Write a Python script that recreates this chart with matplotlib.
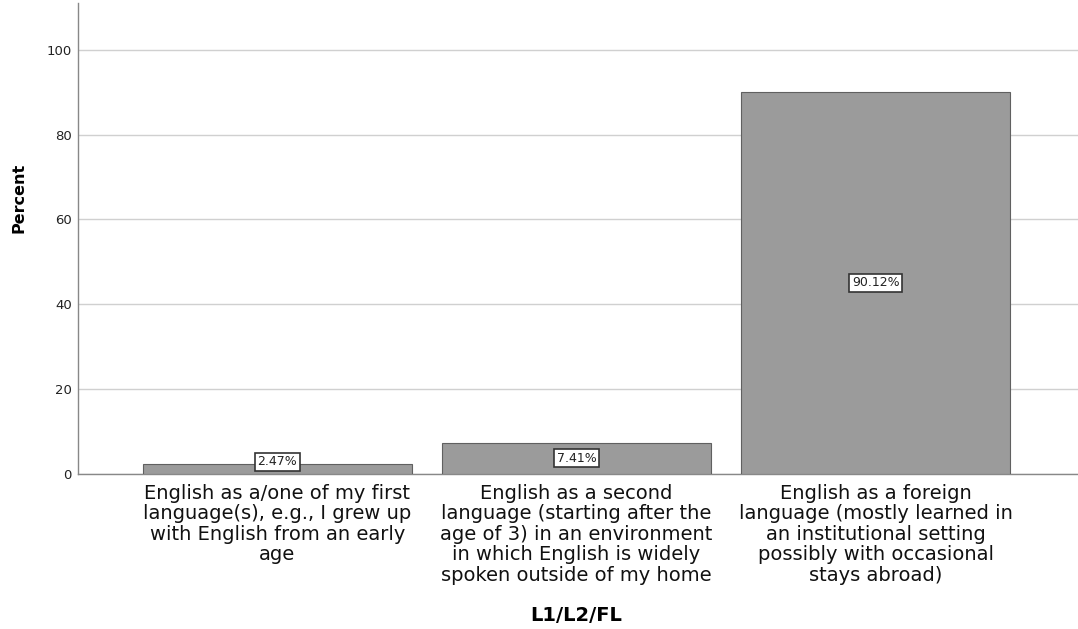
import matplotlib.pyplot as plt
import numpy as np

# Data
categories = [
    "English as a/one of my first\nlanguage(s), e.g., I grew up\nwith English from an early\nage",
    "English as a second\nlanguage (starting after the\nage of 3) in an environment\nin which English is widely\nspoken outside of my home",
    "English as a foreign\nlanguage (mostly learned in\nan institutional setting\npossibly with occasional\nstays abroad)",
]
percents = [2.47, 7.41, 90.12]
yticks = [0, 20, 40, 60, 80, 100]

plt.rcParams['font.family'] = ['DejaVu Sans']

fig = plt.figure(figsize=(10.78, 6.29), dpi=100)
ax = fig.add_axes([0.0724, 0.2464, 0.9276, 0.7486])

x = np.arange(len(categories))
ax.bar(x, percents, width=0.9, color='#9b9b9b', edgecolor='#606060', linewidth=0.8, zorder=3)

# value labels in the middle of each bar (kept above the axis for tiny bars)
for xi, v in zip(x, percents):
    ax.text(xi, max(v / 2, 2.9), f"{v:.2f}%", ha='center', va='center', fontsize=9,
            color='#222222', zorder=4,
            bbox=dict(boxstyle='square,pad=0.2', facecolor='white', edgecolor='#333333', linewidth=1.2))

ax.set_xlim(-0.666, 2.676)
ax.set_ylim(0, 111)
ax.set_yticks(yticks)
ax.set_xticks(x)
ax.set_xticklabels(categories, fontsize=14, linespacing=1.1, color='#111111')
ax.tick_params(axis='x', length=0, pad=7)
ax.tick_params(axis='y', length=0, labelsize=9.5, colors='#222222', pad=4.5)

ax.grid(axis='y', color='#d0d0d0', linewidth=1, zorder=0)
for side in ['top', 'right']:
    ax.spines[side].set_visible(False)
for side in ['left', 'bottom']:
    ax.spines[side].set_color('#888888')
    ax.spines[side].set_linewidth(1)

ax.set_ylabel('Percent', fontsize=11.5, fontweight='bold')
ax.yaxis.set_label_coords(-0.052, 0.587)
ax.set_xlabel('L1/L2/FL', fontsize=14, fontweight='bold')
ax.xaxis.set_label_coords(0.4983, -0.281)

fig.savefig('out.png', dpi=100)
